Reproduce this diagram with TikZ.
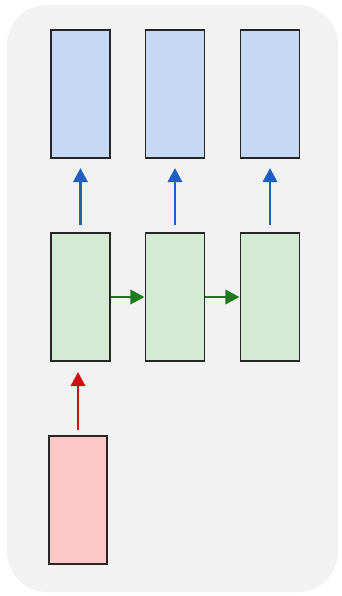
\documentclass[tikz,border=0pt]{standalone}
\usepackage{tikz}
\usetikzlibrary{arrows.meta}

\definecolor{bggray}{HTML}{F2F2F2}
\definecolor{outfill}{HTML}{C5D9F5}
\definecolor{hidfill}{HTML}{D3EBD3}
\definecolor{infill}{HTML}{FFC8C8}
\definecolor{outarr}{HTML}{1F5FC0}
\definecolor{hidarr}{HTML}{1E7A1E}
\definecolor{inarr}{HTML}{D01010}

\tikzset{
    cell/.style={draw=black!85, line width=1.1pt, inner sep=0pt,
        minimum width=1.18cm, minimum height=2.56cm},
    outbox/.style={cell, fill=outfill},
    hidbox/.style={cell, fill=hidfill},
    inbox/.style={cell, fill=infill, minimum width=1.16cm},
    flow/.style={line width=1.7pt, -{Triangle[length=8pt, width=8pt]}}
}

\begin{document}
\begin{tikzpicture}[x=0.02cm, y=-0.02cm]
    \useasboundingbox (0, 0) rectangle (342, 596);
    % 背景
    \fill[bggray, rounded corners=0.8cm] (7, 5) rectangle (338, 592);

    % 输出层
    \node[outbox] (y1) at (80.5, 94) {};
    \node[outbox] (y2) at (175, 94) {};
    \node[outbox] (y3) at (270, 94) {};

    % 隐藏层
    \node[hidbox] (h1) at (80.5, 297) {};
    \node[hidbox] (h2) at (175, 297) {};
    \node[hidbox] (h3) at (270, 297) {};

    % 输入
    \node[inbox] (x1) at (78, 500) {};

    % 连接
    \foreach \i in {1, 2, 3} {
        \draw[flow, outarr, shorten <=0.14cm, shorten >=0.18cm] (h\i) -- (y\i);
    }
    \draw[flow, hidarr] (h1.east) -- (h2.west);
    \draw[flow, hidarr] (h2.east) -- (h3.west);
    \draw[flow, inarr, shorten <=0.1cm, shorten >=0.2cm] (x1) -- (x1 |- h1.south);
\end{tikzpicture}
\end{document}
